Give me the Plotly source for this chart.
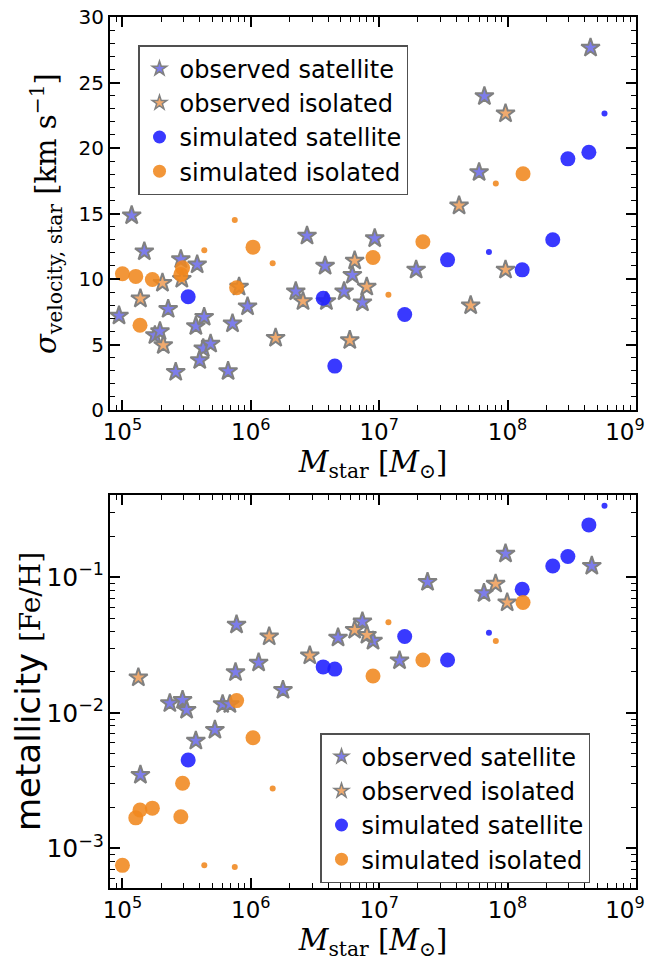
import plotly.graph_objects as go

# ---------------- data ----------------
# simulated (shared masses between panels)
sim_sat_mass = [3.25e5, 3.66e6, 4.51e6, 1.58e7, 3.41e7, 1.30e8, 2.25e8, 2.95e8, 4.30e8]
sim_sat_sigma = [8.64, 8.53, 3.35, 7.29, 11.46, 10.7, 13.0, 19.17, 19.68]
sim_sat_metal = [0.00449, 0.0218, 0.0210, 0.0365, 0.0245, 0.0815, 0.121, 0.142, 0.243]

sim_sat_small_mass = [7.16e7, 5.69e8]
sim_sat_small_sigma = [12.07, 22.63]
sim_sat_small_metal = [0.039, 0.336]

sim_iso_mass = [1.0e5, 1.27e5, 1.37e5, 1.71e5, 2.85e5, 2.94e5, 7.75e5, 1.04e6, 8.95e6, 2.19e7, 1.32e8]
sim_iso_sigma = [10.4, 10.2, 6.47, 9.96, 10.35, 10.85, 9.33, 12.43, 11.64, 12.84, 18.03]
sim_iso_metal = [0.00075, 0.00168, 0.00192, 0.00198, 0.00171, 0.00302, 0.0123, 0.00655, 0.0187, 0.0245, 0.065]

sim_iso_small_mass = [4.34e5, 7.5e5, 1.48e6, 1.18e7, 8.1e7]
sim_iso_small_sigma = [12.2, 14.5, 11.2, 8.8, 17.29]
sim_iso_small_metal = [0.00075, 0.00073, 0.00277, 0.0466, 0.0339]

# observed, velocity dispersion panel
obs_sat_mass_v = [1.18e5, 1.48e5, 9.4e4, 1.79e5, 1.96e5, 2.27e5, 2.6e5, 2.85e5, 3.82e5, 3.73e5,
                  4.33e5, 4.26e5, 4.86e5, 4.0e5, 6.65e5, 7.2e5, 9.43e5, 2.24e6, 2.74e6, 3.79e6,
                  3.88e6, 5.33e6, 6.18e6, 7.4e6, 9.23e6, 1.94e7, 6.0e7, 6.6e7, 4.43e8]
obs_sat_sigma = [14.85, 12.1, 7.2, 5.7, 6.0, 7.7, 2.9, 11.5, 11.1, 6.4,
                 7.1, 4.7, 5.05, 3.8, 2.96, 6.6, 7.9, 9.05, 13.3, 11.0,
                 8.3, 9.05, 10.3, 8.2, 13.1, 10.7, 18.15, 23.95, 27.65]
obs_iso_mass_v = [1.38e5, 2.05e5, 2.08e5, 2.9e5, 8.1e5, 1.56e6, 2.55e6, 5.9e6, 6.44e6, 8.0e6,
                  4.19e7, 5.16e7, 9.64e7, 9.64e7]
obs_iso_sigma = [8.5, 9.7, 4.95, 10.0, 9.4, 5.5, 8.3, 5.33, 11.4, 9.4,
                 15.6, 7.98, 10.7, 22.63]
faint_mass = [5.57e5]
faint_sigma = [21.2]

# observed, metallicity panel
obs_sat_mass_z = [1.38e5, 2.34e5, 2.94e5, 3.16e5, 3.73e5, 5.25e5, 6.03e5, 6.87e5, 7.6e5, 7.74e5,
                  1.15e6, 1.78e6, 4.78e6, 7.4e6, 8.95e6, 1.44e7, 2.38e7, 6.55e7, 9.64e7, 4.53e8]
obs_sat_metal = [0.00348, 0.01175, 0.0124, 0.0105, 0.00622, 0.00747, 0.01156, 0.01156, 0.0199, 0.0446,
                 0.0234, 0.0147, 0.0358, 0.047, 0.0339, 0.0243, 0.092, 0.0762, 0.149, 0.121]
obs_iso_mass_z = [1.33e5, 1.39e6, 2.88e6, 6.44e6, 8.03e6, 8.07e7, 9.93e7]
obs_iso_metal = [0.0182, 0.0365, 0.0264, 0.0408, 0.0375, 0.0893, 0.065]

legend_names = ["observed satellite", "observed isolated", "simulated satellite", "simulated isolated"]

# x tick labels (last one padded so it stays inside the page like the reference)
x_tickvals = [1e5, 1e6, 1e7, 1e8, 1e9]
x_ticktext = ["10<sup>5</sup>", "10<sup>6</sup>", "10<sup>7</sup>", "10<sup>8</sup>",
              "10<sup>9</sup>\u00a0\u00a0\u00a0"]

# ---------------- styles ----------------
C_OBS_SAT = "rgb(125,125,235)"
C_OBS_ISO = "rgb(240,170,110)"
C_SIM_SAT = "rgba(30,30,255,0.88)"
C_SIM_ISO = "rgba(240,135,30,0.88)"
EDGE = "rgb(128,128,128)"
STAR = 14
BIG = 15
SMALL = 6

fig = go.Figure()


def star(color, size, lw=2):
    return dict(symbol="star", size=size, color=color, line=dict(color=EDGE, width=lw))


def dot(color, size):
    return dict(symbol="circle", size=size, color=color, line=dict(width=0))


def add_panel(xa, ya, legend, so_m, so_v, si_m, si_v, ss_m, ss_v, sss_m, sss_v, is_m, is_v, iss_m, iss_v):
    data = [
        (so_m, so_v, star(C_OBS_SAT, STAR)),
        (si_m, si_v, star(C_OBS_ISO, STAR)),
        (ss_m, ss_v, dot(C_SIM_SAT, BIG)),
        (sss_m, sss_v, dot(C_SIM_SAT, SMALL)),
        (is_m, is_v, dot(C_SIM_ISO, BIG)),
        (iss_m, iss_v, dot(C_SIM_ISO, SMALL)),
    ]
    for xs, ys, mk in data:
        fig.add_trace(go.Scatter(x=xs, y=ys, mode="markers", marker=mk, showlegend=False,
                                 xaxis=xa, yaxis=ya, hoverinfo="x+y"))
    # legend entries (smaller symbols, like the reference legend)
    leg_markers = [star(C_OBS_SAT, 11, 1.5), star(C_OBS_ISO, 11, 1.5),
                   dot(C_SIM_SAT, 13), dot(C_SIM_ISO, 13)]
    for nm, mk in zip(legend_names, leg_markers):
        fig.add_trace(go.Scatter(x=[None], y=[None], mode="markers", name=nm, marker=mk,
                                 xaxis=xa, yaxis=ya, legend=legend))


# faint (transparent) star in top panel
fig.add_trace(go.Scatter(x=faint_mass, y=faint_sigma, mode="markers", showlegend=False,
                         marker=dict(symbol="star", size=STAR, color="rgba(190,190,205,0.35)",
                                     line=dict(color="rgba(160,160,160,0.35)", width=2)),
                         xaxis="x", yaxis="y"))

add_panel("x", "y", "legend", obs_sat_mass_v, obs_sat_sigma, obs_iso_mass_v, obs_iso_sigma,
          sim_sat_mass, sim_sat_sigma, sim_sat_small_mass, sim_sat_small_sigma,
          sim_iso_mass, sim_iso_sigma, sim_iso_small_mass, sim_iso_small_sigma)
add_panel("x2", "y2", "legend2", obs_sat_mass_z, obs_sat_metal, obs_iso_mass_z, obs_iso_metal,
          sim_sat_mass, sim_sat_metal, sim_sat_small_mass, sim_sat_small_metal,
          sim_iso_mass, sim_iso_metal, sim_iso_small_mass, sim_iso_small_metal)

# page has an 8px body margin: figure size shrinks so it fits the 657x966 window
OFF = 8
W, H = 657 - OFF, 966 - OFF


def px_x(x):
    return (x - OFF) / W


def px_y(y):
    return 1 - (y - OFF) / H


xdom = [px_x(110), px_x(636)]
ydom_top = [px_y(410), px_y(17)]
ydom_bot = [px_y(888), px_y(495)]

tickfont = dict(family="DejaVu Sans", size=20, color="black")
common_axis = dict(showline=True, linecolor="black", linewidth=2, mirror="allticks",
                   ticks="inside", ticklen=10, tickwidth=1.5, tickcolor="black",
                   showgrid=False, zeroline=False, tickfont=tickfont, automargin=False,
                   ticklabeloverflow="allow")
xtitle = dict(text="<i>M</i><sub>star</sub> [<i>M</i><sub>⊙</sub>]",
              font=dict(family="DejaVu Serif", size=29, color="black"), standoff=2)

xaxis_common = dict(common_axis, type="log", range=[4.903, 9.0005],
                    tickmode="array", tickvals=x_tickvals, ticktext=x_ticktext,
                    tickfont=dict(family="DejaVu Sans", size=23, color="black"),
                    minor=dict(ticks="inside", ticklen=5, tickwidth=1, tickcolor="black", dtick="D1",
                               showgrid=False),
                    title=xtitle)

legend_common = dict(xanchor="left", yanchor="top",
                     bgcolor="white", bordercolor="rgb(80,80,80)", borderwidth=1.5,
                     font=dict(family="DejaVu Sans", size=24, color="black"),
                     itemsizing="trace", tracegroupgap=0)

fig.update_layout(
    width=W, height=H,
    margin=dict(l=0, r=0, t=0, b=0, autoexpand=False),
    paper_bgcolor="white", plot_bgcolor="white",
    xaxis=dict(xaxis_common, domain=xdom, anchor="y"),
    yaxis=dict(common_axis, domain=ydom_top, anchor="x", range=[0, 30], dtick=5,
               minor=dict(ticks="inside", ticklen=5, tickwidth=1, tickcolor="black", dtick=1,
                          showgrid=False),
               title=dict(text="<i>σ</i><sub>velocity, star</sub> [km s<sup>−1</sup>]",
                          font=dict(family="DejaVu Serif", size=29, color="black"), standoff=13)),
    xaxis2=dict(xaxis_common, domain=xdom, anchor="y2"),
    yaxis2=dict(common_axis, domain=ydom_bot, anchor="x2", type="log",
                range=[-3.292, -0.394], dtick=1, exponentformat="power", showexponent="all",
                minor=dict(ticks="inside", ticklen=5, tickwidth=1, tickcolor="black", dtick="D1",
                           showgrid=False),
                title=dict(text="metallicity <span style='font-family:DejaVu Serif;font-size:28px'>[Fe/H]</span>",
                           font=dict(family="DejaVu Sans", size=34, color="black"), standoff=8)),
    legend=dict(legend_common, x=px_x(138), y=px_y(45)),
    legend2=dict(legend_common, x=px_x(320), y=px_y(733)),
)

fig.write_html("out.html")
